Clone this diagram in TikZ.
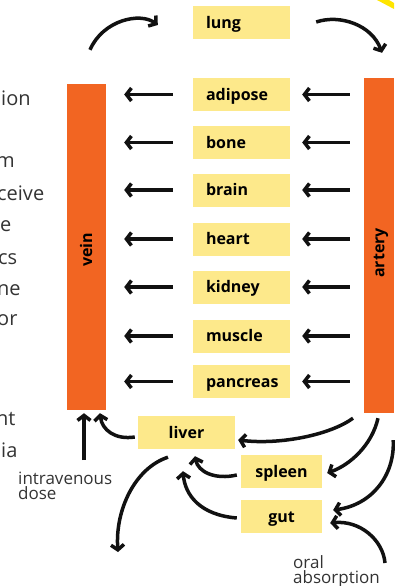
\documentclass[tikz,border=0pt]{standalone}
\usepackage{fontspec}
\setmainfont{Open Sans}
\usetikzlibrary{arrows.meta, calc, positioning}
\definecolor{pkOrange}{HTML}{F26522}
\definecolor{pkYellow}{HTML}{FDE98B}
\definecolor{pkBand}{HTML}{FFE500}
\definecolor{pkText}{HTML}{333333}
\definecolor{pkInk}{HTML}{111111}
\tikzset{
  organ/.style      = {fill=pkYellow, text width=71pt, inner xsep=13pt, inner ysep=0pt,
                       minimum height=33pt, text height=13.5pt, text depth=2.5pt, align=left,
                       font=\fontsize{16}{18}\selectfont\bfseries},
  sideorgan/.style  = {organ, text width={}, align=center, inner xsep=0pt, minimum width=#1},
  vessel/.style     = {fill=pkOrange, inner sep=0pt},
  vlbl/.style       = {rotate=90, inner sep=0pt, font=\fontsize{16}{18}\selectfont\bfseries},
  flow/.style       = {-{Straight Barb[length=5pt,width=13pt]}, line width=3.5pt, pkInk},
  note/.style       = {align=left, inner sep=0pt, pkText, font=\fontsize{17}{15}\selectfont},
  frag/.style       = {anchor=base west, inner sep=0pt, pkText, font=\fontsize{20}{24}\selectfont},
}
\begin{document}
\begin{tikzpicture}[x=1pt, y=-1pt]
  \useasboundingbox (0,0) rectangle (394,586);
  \fill[pkBand] (377,0) -- (389,0) -- (394,3) -- (394,9) -- cycle;

  % cut-off page text on the left
  \foreach \txt/\x/\y [count=\k] in {ion/1/105, m/-4/167, ceive/-3/200, e/0/231,
      cs/-2/264, ne/-3/295, or/-3/325, nt/-4/425, ia/1/457}
    \node[frag] (frag\k) at (\x,\y) {\txt};

  % vessels
  \node[vessel, minimum width=39pt, minimum height=326pt] (vein) at (86.5,247) {};
  \node[vlbl] (veinlbl) at (86,250) {vein};
  \node[vessel, minimum width=30pt, minimum height=335pt] (artery) at (379,245.5) {};
  \node[vlbl] (arterylbl) at (381,253) {artery};

  % organs
  \node[organ] (lung)     at (241.5,23)    {lung};
  \node[organ] (adipose)  at (241.5,94.5)  {adipose};
  \node[organ] (bone)     at (241.5,142.5) {bone};
  \node[organ] (brain)    at (241.5,190)   {brain};
  \node[organ] (heart)    at (241.5,239)   {heart};
  \node[organ] (kidney)   at (241.5,287)   {kidney};
  \node[organ] (muscle)   at (241.5,336)   {muscle};
  \node[organ] (pancreas) at (241.5,381.5) {pancreas};
  \node[sideorgan=97pt] (liver)  at (186.5,432.5) {liver};
  \node[sideorgan=81pt] (spleen) at (281.5,471.5) {spleen};
  \node[sideorgan=81pt] (gut)    at (281.5,516.5) {gut};

  \node[note, anchor=north west] (ivlbl)   at (18,472)  {intravenous\\dose};
  \node[note, anchor=north west] (orallbl) at (293,555) {oral\\absorption};
  \coordinate (ivin)   at (84,460);
  \coordinate (oralin) at (385,563);
  \coordinate (excr)   at (118,552);

  % straight flows through the tissues
  \foreach \organ in {adipose,bone,brain,heart,kidney,muscle,pancreas} {
    \draw[flow] ([xshift=-14pt]artery.west |- \organ) -- ([xshift=12pt]\organ.east);
    \draw[flow] ([xshift=-20pt]\organ.west) -- ([xshift=18pt]vein.east |- \organ);
  }

  % lung loop
  \draw[flow] ($(vein.north)+(3.5,-34)$) .. controls (103,20) and (140,12) .. ($(lung.west)+(-35,2)$);
  \draw[flow] ($(lung.east)+(26,-1)$) .. controls (340,14) and (372,25) .. ($(artery.north)+(3,-25)$);

  % splanchnic circulation
  \draw[flow] ($(artery.south)+(-26,5)$) .. controls (330,435) and (280,445) .. ($(liver.east)+(3,7.5)$);
  \draw[flow] ($(artery.south)+(-1,5)$) .. controls (372,445) and (350,465) .. ($(spleen.east)+(5,1.5)$);
  \draw[flow] ($(artery.south east)+(-1,27)$) .. controls (395,475) and (372,505) .. ($(gut.east)+(11,-6.5)$);
  \draw[flow] (oralin) .. controls (383,540) and (360,520) .. ($(gut.east)+(8,6.5)$);
  \draw[flow] ($(spleen.west)+(-4,3.5)$) .. controls (215,480) and (198,472) .. ($(liver.south)+(8.5,7)$);
  \draw[flow] ($(gut.west)+(-4,1.5)$) .. controls (200,515) and (185,495) .. ($(liver.south)+(-3.5,22)$);
  \draw[flow] ($(liver.west)+(-3,4.5)$) .. controls (115,440) and (102,430) .. ($(vein.south)+(13.5,3)$);
  \draw[flow] (ivin) -- ($(vein.south)+(-2.5,3)$);
  \draw[flow] ($(liver.south)+(-18.5,8)$) .. controls (135,468) and (115,510) .. (excr);
\end{tikzpicture}
\end{document}
